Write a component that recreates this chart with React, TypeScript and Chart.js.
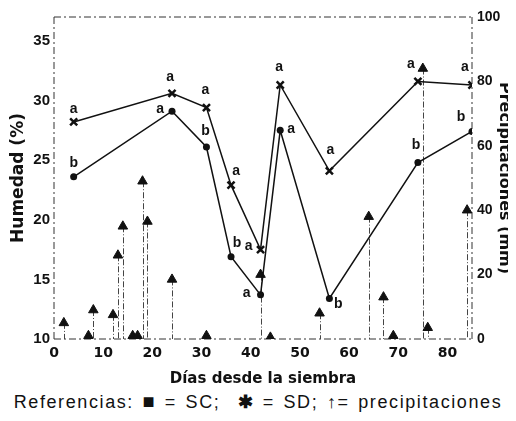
import React, { useEffect, useRef } from "react";
import { Chart, registerables } from "chart.js";

Chart.register(...registerables);

// ---- data ----
const days = [4, 24, 31, 36, 42, 46, 56, 74, 85];
const scValues = [23.6, 29.1, 26.1, 16.9, 13.7, 27.5, 13.4, 24.8, 27.4];
const sdValues = [28.2, 30.6, 29.4, 22.9, 17.5, 31.3, 24.1, 31.6, 31.3];
const scLetters = ["b", "a", "b", "b", "a", "a", "b", "b", "b"];
const sdLetters = ["a", "a", "a", "a", "a", "a", "a", "a", "a"];
const precipDays = [2, 7, 8, 12, 13, 14, 16, 17, 18, 19, 24, 31, 42, 44, 54, 64, 67, 69, 75, 76, 84];
const precipMm = [5, 1, 9, 7.5, 26, 35, 1, 1, 49, 36.5, 18.5, 1, 20, 0.5, 8, 38, 13, 1, 84, 3.5, 40];
const xTicks = [0, 10, 20, 30, 40, 50, 60, 70, 80];
const yTicks = [10, 15, 20, 25, 30, 35];
const y2Ticks = [0, 20, 40, 60, 80, 100];

// ---- label placement (style only) ----
const sdLabelOffsets = [
  [0, -13], [-2, -16], [-1, -17], [5, -14], [-12, -3], [-1, -18], [1, -21], [-7, -17], [-7, -18],
];
const scLabelOffsets = [
  [0, -14], [-12, -2], [-1, -16], [6, -14], [-14, -2], [11, -1], [9, 6], [-2, -17], [-11, -14],
];

const DASH = [7, 3, 2, 3];

const framePlugin = {
  id: "frameAndArrows",
  beforeDatasetsDraw(chart: any) {
    const { ctx, chartArea, scales } = chart;
    const { left, right, top, bottom } = chartArea;
    ctx.save();
    ctx.strokeStyle = "#333";
    ctx.lineWidth = 1;
    ctx.setLineDash(DASH);
    ctx.beginPath();
    ctx.moveTo(left, top);
    ctx.lineTo(right, top);
    ctx.moveTo(left, bottom);
    ctx.lineTo(right, bottom);
    ctx.moveTo(left, top);
    ctx.lineTo(left, bottom);
    ctx.moveTo(right, top);
    ctx.lineTo(right, bottom);
    ctx.stroke();
    // precipitation arrow shafts
    ctx.setLineDash([6, 2, 1, 2]);
    ctx.strokeStyle = "#444";
    const base = scales.y2.getPixelForValue(0);
    precipDays.forEach((d, i) => {
      const x = Math.round(scales.x.getPixelForValue(d)) + 0.5;
      const y = scales.y2.getPixelForValue(precipMm[i]);
      ctx.beginPath();
      ctx.moveTo(x, y);
      ctx.lineTo(x, base);
      ctx.stroke();
    });
    ctx.restore();
  },
  afterDatasetsDraw(chart: any) {
    const { ctx } = chart;
    ctx.save();
    ctx.fillStyle = "#111";
    ctx.font = "bold 14px 'Liberation Sans', Arial, sans-serif";
    ctx.textAlign = "center";
    ctx.textBaseline = "middle";
    const draw = (dsIndex: number, letters: string[], offs: number[][]) => {
      const meta = chart.getDatasetMeta(dsIndex);
      meta.data.forEach((el: any, i: number) => {
        ctx.fillText(letters[i], el.x + offs[i][0], el.y + offs[i][1]);
      });
    };
    draw(0, sdLetters, sdLabelOffsets);
    draw(1, scLetters, scLabelOffsets);
    ctx.restore();
  },
};

export default function App() {
  const ref = useRef<HTMLCanvasElement | null>(null);
  useEffect(() => {
    if (!ref.current) return;
    const tickFontY = { family: "'Liberation Sans', Arial, sans-serif", size: 15, weight: "bold" as const };
    const chart = new Chart(ref.current, {
      type: "scatter",
      data: {
        datasets: [
          {
            label: "SD",
            data: days.map((d, i) => ({ x: d, y: sdValues[i] })),
            showLine: true,
            borderColor: "#111",
            backgroundColor: "#111",
            borderWidth: 1.5,
            pointStyle: "crossRot",
            pointRadius: 5,
            pointBorderWidth: 2.5,
            yAxisID: "y",
          },
          {
            label: "SC",
            data: days.map((d, i) => ({ x: d, y: scValues[i] })),
            showLine: true,
            borderColor: "#111",
            backgroundColor: "#111",
            borderWidth: 1.5,
            pointStyle: "circle",
            pointRadius: 3.5,
            pointBorderWidth: 0,
            yAxisID: "y",
          },
          {
            label: "Precipitaciones",
            data: precipDays.map((d, i) => ({ x: d, y: precipMm[i] })),
            showLine: false,
            borderColor: "#111",
            backgroundColor: "#111",
            pointStyle: "triangle",
            pointRadius: 5.5,
            pointBorderWidth: 1,
            yAxisID: "y2",
          },
        ],
      },
      options: {
        animation: false,
        responsive: false,
        layout: { padding: { top: 17, left: 0, right: 0, bottom: 0 } },
        plugins: { legend: { display: false }, tooltip: { enabled: false } },
        scales: {
          x: {
            type: "linear",
            min: 0,
            max: 85,
            grid: { display: false, drawTicks: false },
            border: { display: false },
            afterBuildTicks: (s: any) => {
              s.ticks = xTicks.map((v) => ({ value: v }));
            },
            afterFit: (s: any) => {
              s.height = 49;
            },
            ticks: {
              color: "#111",
              padding: 6,
              font: { family: "'DejaVu Sans', sans-serif", size: 14, weight: "bold" },
            },
            title: {
              display: true,
              text: "Días desde la siembra",
              color: "#111",
              padding: 0,
              font: { family: "'DejaVu Sans', sans-serif", size: 15, weight: "bold" },
            },
          },
          y: {
            type: "linear",
            position: "left",
            min: 10,
            max: 37,
            grid: { display: false, drawTicks: false },
            border: { display: false },
            afterBuildTicks: (s: any) => {
              s.ticks = yTicks.map((v) => ({ value: v }));
            },
            afterFit: (s: any) => {
              s.width = 54;
            },
            ticks: { color: "#111", padding: 4, font: tickFontY },
            title: {
              display: true,
              text: "Humedad (%)",
              color: "#111",
              padding: { top: 8, bottom: 0 },
              font: { family: "'DejaVu Sans', sans-serif", size: 17, weight: "bold" },
            },
          },
          y2: {
            type: "linear",
            position: "right",
            min: 0,
            max: 100,
            grid: { display: false, drawTicks: false },
            border: { display: false },
            afterBuildTicks: (s: any) => {
              s.ticks = y2Ticks.map((v) => ({ value: v }));
            },
            afterFit: (s: any) => {
              s.width = 44;
            },
            ticks: { color: "#111", padding: 5, font: { family: "'Liberation Sans', Arial, sans-serif", size: 14, weight: "bold" } },
            title: {
              display: true,
              text: "Precipitaciones (mm)",
              color: "#111",
              padding: { top: 2, bottom: 0 },
              font: { family: "'DejaVu Sans', sans-serif", size: 16, weight: "bold" },
            },
          },
        },
      },
      plugins: [framePlugin],
    });
    return () => chart.destroy();
  }, []);

  return (
    <div style={{ width: 516, margin: "-8px 0 0 -8px", background: "#fff" }}>
      <canvas ref={ref} width={516} height={388} style={{ display: "block" }} />
      <div
        style={{
          textAlign: "center",
          fontFamily: "'Liberation Sans', Arial, sans-serif",
          fontSize: 18,
          letterSpacing: "1.6px",
          wordSpacing: "2px",
          lineHeight: "26px",
          color: "#111",
          marginTop: 0,
        }}
      >
        Referencias: <span style={{ fontSize: 20 }}>■</span> = SC;&nbsp; <b>✱</b> = SD; ↑= precipitaciones
      </div>
    </div>
  );
}
